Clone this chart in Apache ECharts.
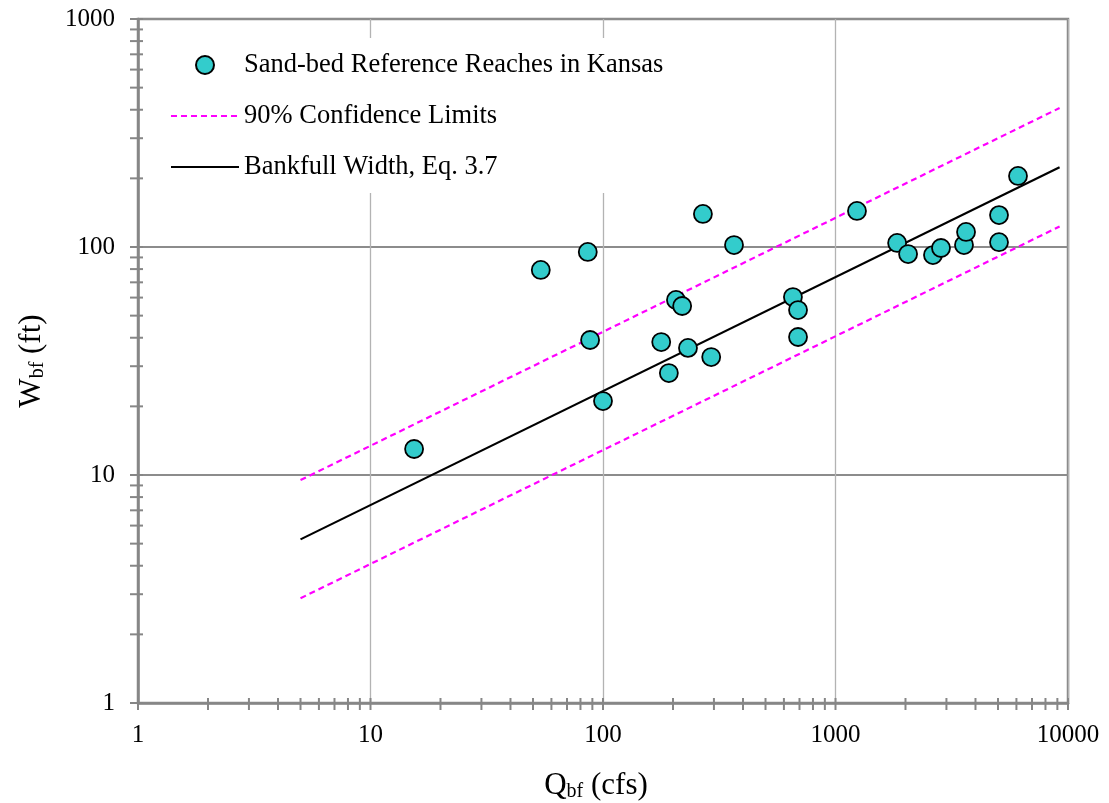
<!DOCTYPE html>
<html>
<head>
<meta charset="utf-8">
<script src="https://cdn.jsdelivr.net/npm/echarts@6/dist/echarts.min.js"></script>
<style>
  html, body { margin: 0; padding: 0; background: #fff; }
  #chart { width: 1109px; height: 803px; }
</style>
</head>
<body>
<div id="chart"></div>
<script>
// bankfull discharge (cfs) and bankfull width (ft) of the reference reaches
const qbf = [15.4, 54, 86, 88, 100, 178, 192, 206, 219, 232, 269, 292, 366, 656, 690, 690,
  1237, 1841, 2052, 2626, 2843, 3570, 3643, 5050, 5050, 6095]
const wbf = [13.0, 79.3, 95.1, 39.1, 21.1, 38.3, 28.0, 58.6, 55.1, 36.1, 139.6, 32.9, 102, 60.3, 52.9, 40.3,
  143.9, 104.2, 93.1, 92.2, 99.0, 102, 116.4, 138, 105, 205]

// end points of the regression line and of the 90% limits
const lineQ = [5, 9200]
const fitW = [5.22, 224]
const upperW = [9.5, 407]
const lowerW = [2.88, 123]

// tick positions on the log axes
const xTicks = [1, 2, 3, 4, 5, 6, 7, 8, 9, 10, 20, 30, 40, 50, 60, 70, 80, 90, 100,
  200, 300, 400, 500, 600, 700, 800, 900, 1000, 2000, 3000, 4000, 5000, 6000, 7000, 8000, 9000, 10000]
const yTicks = [1, 2, 3, 4, 5, 6, 7, 8, 9, 10, 20, 30, 40, 50, 60, 70, 80, 90, 100,
  200, 300, 400, 500, 600, 700, 800, 900, 1000]

const FONT = 'Liberation Serif'
const AXIS_GRAY = '#868686'

const nameRich = {
  m: { fontSize: 31, fontFamily: FONT, color: '#000' },
  s: { fontSize: 20, fontFamily: FONT, color: '#000', padding: [13, 0, 0, 0] }
}

const chart = echarts.init(document.getElementById('chart'))

const option = {
  backgroundColor: '#fff',
  animation: false,
  grid: {
    left: 138, right: 41, top: 19, bottom: 100,
    outerBoundsMode: 'none',
    show: true, borderColor: AXIS_GRAY, borderWidth: 2.5, backgroundColor: 'transparent'
  },
  legend: {
    orient: 'vertical',
    left: 152, top: 38,
    padding: [13, 20, 12, 18],
    backgroundColor: '#fff',
    itemWidth: 68, itemHeight: 18, itemGap: 23,
    textStyle: { fontFamily: FONT, fontSize: 26.5, color: '#000', lineHeight: 28 },
    data: [
      { name: 'Sand-bed Reference Reaches in Kansas' },
      { name: '90% Confidence Limits', itemStyle: { opacity: 0 } },
      { name: 'Bankfull Width, Eq. 3.7', itemStyle: { opacity: 0 } }
    ]
  },
  xAxis: {
    type: 'log', logBase: 10, min: 1, max: 10000,
    name: '{m|Q}{s|bf}{m| (cfs)}',
    nameLocation: 'middle', nameGap: 66,
    nameTextStyle: { rich: nameRich, padding: [0, 14, 0, 0] },
    axisLine: { lineStyle: { color: AXIS_GRAY, width: 2.5 } },
    axisTick: { show: false },
    axisLabel: { fontFamily: FONT, fontSize: 25, color: '#000', margin: 20, formatter: v => String(v) },
    splitLine: { show: true, lineStyle: { color: '#b3b3b3', width: 1.3 } }
  },
  yAxis: {
    type: 'log', logBase: 10, min: 1, max: 1000,
    name: '{m|W}{s|bf}{m| (ft)}',
    nameLocation: 'middle', nameGap: 90, nameRotate: 90,
    nameTextStyle: { rich: nameRich },
    axisLine: { lineStyle: { color: AXIS_GRAY, width: 2.5 } },
    axisTick: { show: false },
    axisLabel: { fontFamily: FONT, fontSize: 25, color: '#000', margin: 23, formatter: v => String(v) },
    splitLine: { show: true, lineStyle: { color: '#8c8c8c', width: 2 } }
  },
  series: [
    {
      // ticks crossing the x axis
      type: 'custom', silent: true, clip: false, z: 5,
      data: xTicks.map(v => [v, 1]),
      renderItem: function (params, api) {
        const p = api.coord([api.value(0), api.value(1)])
        return {
          type: 'line',
          shape: { x1: p[0], y1: p[1] - 5, x2: p[0], y2: p[1] + 7 },
          style: { stroke: AXIS_GRAY, lineWidth: 2 }
        }
      }
    },
    {
      // ticks crossing the y axis
      type: 'custom', silent: true, clip: false, z: 5,
      data: yTicks.map(v => [1, v]),
      renderItem: function (params, api) {
        const p = api.coord([api.value(0), api.value(1)])
        return {
          type: 'line',
          shape: { x1: p[0] - 8, y1: p[1], x2: p[0] + 5, y2: p[1] },
          style: { stroke: AXIS_GRAY, lineWidth: 2 }
        }
      }
    },
    {
      name: '90% Confidence Limits',
      type: 'line', symbol: 'none', showSymbol: false, z: 3,
      data: lineQ.map((q, i) => [q, upperW[i]]),
      lineStyle: { color: '#ff00ff', width: 2.2, type: [6, 4] },
      itemStyle: { color: '#ff00ff' }
    },
    {
      name: '90% Confidence Limits',
      type: 'line', symbol: 'none', showSymbol: false, z: 3,
      data: lineQ.map((q, i) => [q, lowerW[i]]),
      lineStyle: { color: '#ff00ff', width: 2.2, type: [6, 4] },
      itemStyle: { color: '#ff00ff' }
    },
    {
      name: 'Bankfull Width, Eq. 3.7',
      type: 'line', symbol: 'none', showSymbol: false, z: 3,
      data: lineQ.map((q, i) => [q, fitW[i]]),
      lineStyle: { color: '#000', width: 2.2 },
      itemStyle: { color: '#000' }
    },
    {
      name: 'Sand-bed Reference Reaches in Kansas',
      type: 'scatter', symbol: 'circle', symbolSize: 18, z: 4,
      data: qbf.map((q, i) => [q, wbf[i]]),
      itemStyle: { color: '#33cccc', borderColor: '#000', borderWidth: 1.8, opacity: 1 }
    }
  ]
}

chart.setOption(option)
</script>
</body>
</html>
